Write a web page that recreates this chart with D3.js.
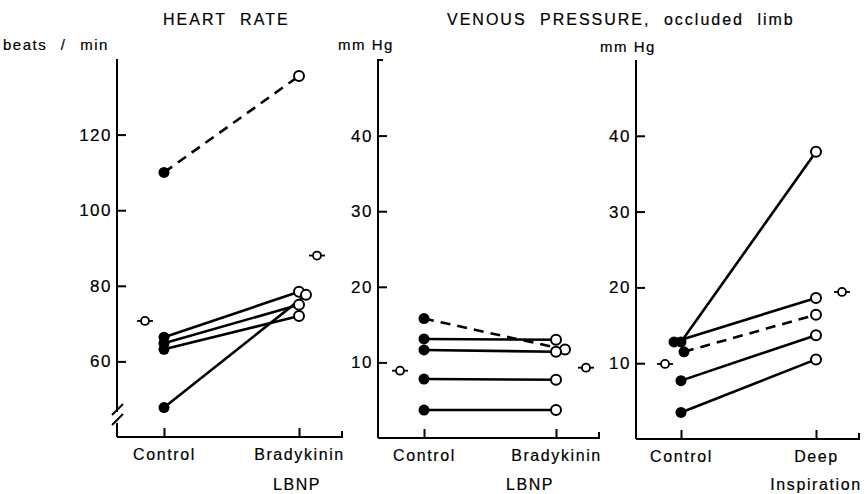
<!DOCTYPE html>
<html>
<head>
<meta charset="utf-8">
<script src="https://cdn.jsdelivr.net/npm/d3@7"></script>
<style>
  body { margin: 0; background: #fff; }
  text { font-family: "Liberation Sans", Arial, sans-serif; fill: #000; stroke: #000; stroke-width: 0.2px; }
  .tick-label { font-size: 17px; letter-spacing: 1.5px; }
  .cat-label { font-size: 16px; letter-spacing: 1.6px; }
  .title { font-size: 16px; letter-spacing: 2px; word-spacing: 7px; }
  .unit { font-size: 15px; letter-spacing: 1.5px; }
</style>
</head>
<body>
<svg id="chart"></svg>
<script>
// SET VARIABLES
const _width = 867;
const _height = 494;
const _ink = '#000';

// DATA : heart rate, LBNP + bradykinin
const hrCategories = ['Control', 'Bradykinin'];
const hrControl = [110, 66.4, 64.8, 63.2, 47.8];
const hrAfter = [135.5, 78.4, 75, 72, 77.6];
const hrDashed = [true, false, false, false, false];
const hrMean = [70.7, 88];
const hrTicks = [60, 80, 100, 120];

// DATA : venous pressure, LBNP + bradykinin
const vpCategories = ['Control', 'Bradykinin'];
const vpControl = [15.8, 13.1, 11.65, 7.8, 3.7];
const vpAfter = [11.7, 13.0, 11.4, 7.7, 3.7];
const vpDashed = [true, false, false, false, false];
const vpMean = [8.9, 9.3];
const vpTicks = [10, 20, 30, 40];

// DATA : venous pressure, deep inspiration
const diCategories = ['Control', 'Deep'];
const diControl = [12.8, 12.8, 11.5, 7.7, 3.5];
const diAfter = [37.9, 18.6, 16.4, 13.7, 10.5];
const diDashed = [false, false, true, false, false];
const diMean = [9.9, 19.4];
const diTicks = [10, 20, 30, 40];

// LAYOUT (pixels)
const _panels = [
  {id: 'hr', cats: hrCategories, control: hrControl, after: hrAfter, dashed: hrDashed, mean: hrMean, ticks: hrTicks,
   domain: [40, 140], axisX: 117, axisEnd: 342, top: 59, bottom: 437, catX: [164, 299],
   jitterControl: [0, 0, 0, 0, 0], jitterAfter: [0, 0, 0, 0, 7], meanDx: [-19, 18],
   sub: {text: 'LBNP', dx: -2}, unit: {text: 'beats / min', x: 3, y: 50, ws: 8}, breakAxis: true, hook: false},
  {id: 'vp', cats: vpCategories, control: vpControl, after: vpAfter, dashed: vpDashed, mean: vpMean, ticks: vpTicks,
   domain: [0, 50], axisX: 378, axisEnd: 599, top: 60, bottom: 438, catX: [424, 556],
   jitterControl: [0, 0, 0, 0, 0], jitterAfter: [9, 0, 0, 0, 0], meanDx: [-24, 30],
   sub: {text: 'LBNP', dx: -26}, unit: {text: 'mm Hg', x: 338, y: 50, ws: 0}, breakAxis: false, hook: true},
  {id: 'di', cats: diCategories, control: diControl, after: diAfter, dashed: diDashed, mean: diMean, ticks: diTicks,
   domain: [0, 50], axisX: 636, axisEnd: 859, top: 60, bottom: 439, catX: [681, 816],
   jitterControl: [0, -7, 3, 0, 0], jitterAfter: [0, 0, 0, 0, 0], meanDx: [-16, 26],
   sub: {text: 'Inspiration', dx: 0}, unit: {text: 'mm Hg', x: 600, y: 52, ws: 0}, breakAxis: false, hook: false}
];

const svg = d3.select('#chart')
              .attr('width', _width)
              .attr('height', _height);
    svg.append('rect')
          .attr('width', _width)
          .attr('height', _height)
          .attr('fill', '#fff');

// TITLES
svg.append('text')
      .attr('class', 'title')
      .attr('x', 163)
      .attr('y', 25)
      .text('HEART RATE');
svg.append('text')
      .attr('class', 'title')
      .attr('x', 447)
      .attr('y', 25)
      .text('VENOUS PRESSURE, occluded limb');

function drawMean(g, x, y) {
  g.append('line')
      .attr('x1', x - 8).attr('x2', x + 8)
      .attr('y1', y).attr('y2', y)
      .attr('stroke', _ink)
      .attr('stroke-width', 1.8);
  g.append('circle')
      .attr('cx', x).attr('cy', y)
      .attr('r', 4)
      .attr('fill', '#fff')
      .attr('stroke', _ink)
      .attr('stroke-width', 1.8);
}

function drawPanel(p) {
  let g = svg.append('g').attr('id', p.id);

  let y = d3.scaleLinear()
            .domain(p.domain)
            .range([p.bottom, p.top]);
  let x = d3.scalePoint()
            .domain(p.cats)
            .range(p.catX);

  // y axis, ticks pointing into the plot
  let yAxis = g.append('g')
                .attr('transform', `translate(${p.axisX},0)`)
                .call(d3.axisLeft(y).tickValues(p.ticks).tickSizeInner(-9).tickSizeOuter(0).tickPadding(5));
      yAxis.select('.domain').remove();
      yAxis.selectAll('.tick line').attr('stroke', _ink).attr('stroke-width', 2);
      yAxis.selectAll('.tick text')
              .attr('class', 'tick-label')
              .attr('font-size', null)
              .attr('font-family', null)
              .attr('fill', _ink);

  // vertical axis line (with break on heart rate)
  if (p.breakAxis) {
    g.append('line')
        .attr('x1', p.axisX).attr('x2', p.axisX)
        .attr('y1', p.top).attr('y2', 412)
        .attr('stroke', _ink).attr('stroke-width', 2);
    g.append('line')
        .attr('x1', p.axisX).attr('x2', p.axisX)
        .attr('y1', 423).attr('y2', p.bottom)
        .attr('stroke', _ink).attr('stroke-width', 2);
    [0, 10].forEach(off => {
      g.append('line')
          .attr('x1', p.axisX - 5).attr('y1', 415 + off)
          .attr('x2', p.axisX + 6).attr('y2', 404 + off)
          .attr('stroke', _ink).attr('stroke-width', 2);
    });
  } else {
    g.append('line')
        .attr('x1', p.axisX).attr('x2', p.axisX)
        .attr('y1', p.top).attr('y2', p.bottom)
        .attr('stroke', _ink).attr('stroke-width', 2);
  }
  if (p.hook) {
    g.append('line')
        .attr('x1', p.axisX - 1).attr('x2', p.axisX + 5)
        .attr('y1', p.top).attr('y2', p.top)
        .attr('stroke', _ink).attr('stroke-width', 2);
  }

  // x axis
  let xAxis = g.append('g')
                .attr('transform', `translate(0,${p.bottom})`)
                .call(d3.axisBottom(x).tickSizeInner(-9).tickSizeOuter(0).tickPadding(12));
      xAxis.select('.domain').remove();
      xAxis.selectAll('.tick line').attr('stroke', _ink).attr('stroke-width', 2);
      xAxis.selectAll('.tick text')
              .attr('class', 'cat-label')
              .attr('font-size', null)
              .attr('font-family', null)
              .attr('fill', _ink);
  g.append('path')
      .attr('d', `M${p.axisX},${p.bottom}H${p.axisEnd}V${p.bottom - 6}`)
      .attr('fill', 'none')
      .attr('stroke', _ink)
      .attr('stroke-width', 2);

  // second line of category label
  g.append('text')
      .attr('class', 'cat-label')
      .attr('text-anchor', 'middle')
      .attr('x', x(p.cats[1]) + p.sub.dx)
      .attr('y', 490)
      .text(p.sub.text);

  // unit label
  g.append('text')
      .attr('class', 'unit')
      .attr('x', p.unit.x)
      .attr('y', p.unit.y)
      .style('word-spacing', `${p.unit.ws}px`)
      .text(p.unit.text);

  // paired lines
  let pairs = p.control.map((d, i) => ({c: d, a: p.after[i], dashed: p.dashed[i], jc: p.jitterControl[i], ja: p.jitterAfter[i]}));
  g.selectAll('line.pair')
      .data(pairs)
        .enter()
      .append('line')
        .attr('class', 'pair')
        .attr('x1', d => x(p.cats[0]) + d.jc)
        .attr('y1', d => y(d.c))
        .attr('x2', d => x(p.cats[1]) + d.ja)
        .attr('y2', d => y(d.a))
        .attr('stroke', _ink)
        .attr('stroke-width', 2.6)
        .attr('stroke-dasharray', d => d.dashed ? '10,7' : null);

  g.selectAll('circle.ctrl')
      .data(pairs)
        .enter()
      .append('circle')
        .attr('class', 'ctrl')
        .attr('cx', d => x(p.cats[0]) + d.jc)
        .attr('cy', d => y(d.c))
        .attr('r', 5.5)
        .attr('fill', _ink);
  g.selectAll('circle.after')
      .data(pairs)
        .enter()
      .append('circle')
        .attr('class', 'after')
        .attr('cx', d => x(p.cats[1]) + d.ja)
        .attr('cy', d => y(d.a))
        .attr('r', 5)
        .attr('fill', '#fff')
        .attr('stroke', _ink)
        .attr('stroke-width', 2);

  // group means
  drawMean(g, x(p.cats[0]) + p.meanDx[0], y(p.mean[0]));
  drawMean(g, x(p.cats[1]) + p.meanDx[1], y(p.mean[1]));
}

_panels.forEach(drawPanel);
</script>
</body>
</html>
